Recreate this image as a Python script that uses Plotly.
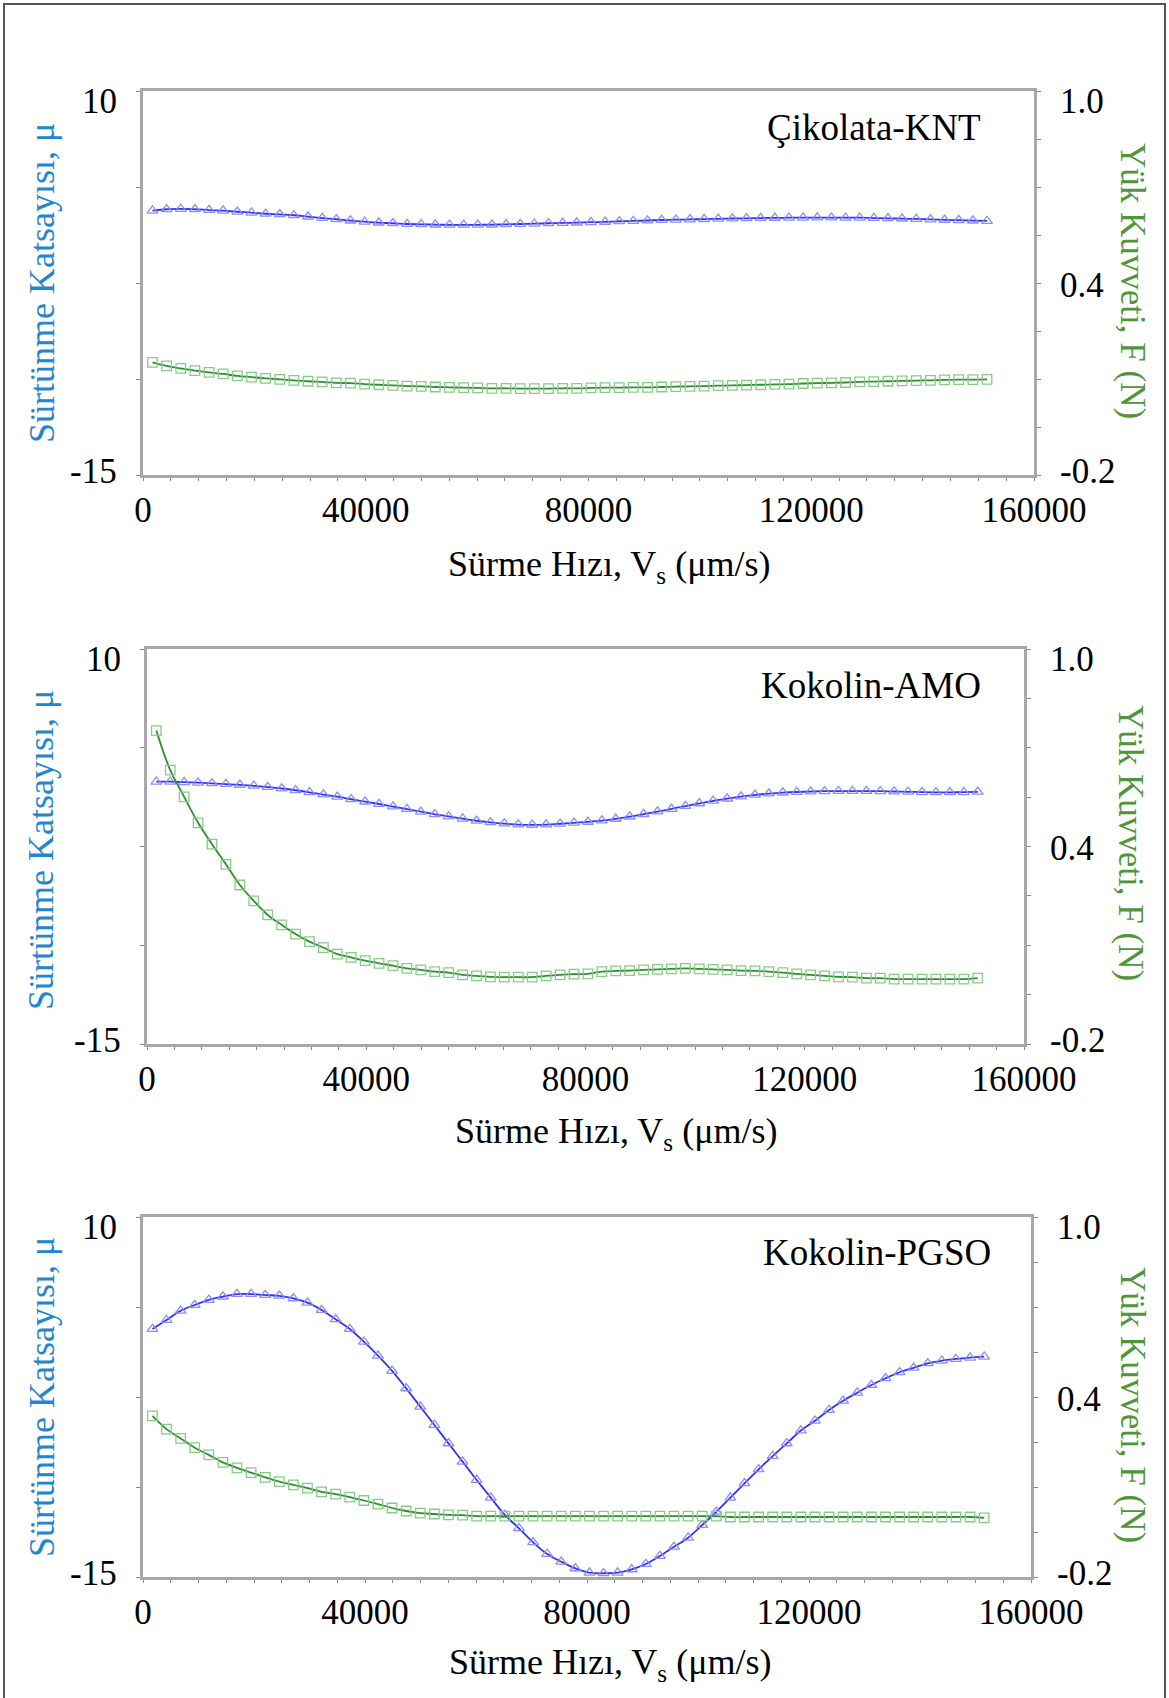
import plotly.graph_objects as go

W, H = 1169, 1698

# ---------------- data ----------------
speed = [1700, 4240, 6780, 9320, 11860, 14400, 16940, 19480, 22020, 24560,
         27100, 29640, 32180, 34720, 37260, 39800, 42340, 44880, 47420, 49960,
         52500, 55040, 57580, 60120, 62660, 65200, 67740, 70280, 72820, 75360,
         77900, 80440, 82980, 85520, 88060, 90600, 93140, 95680, 98220, 100760,
         103300, 105840, 108380, 110920, 113460, 116000, 118540, 121080, 123620, 126160,
         128700, 131240, 133780, 136320, 138860, 141400, 143940, 146480, 149020, 151560]

panel_names = ["Çikolata-KNT", "Kokolin-AMO", "Kokolin-PGSO"]

mu_knt = [2.21, 2.30, 2.32, 2.30, 2.25, 2.21, 2.14, 2.08, 2.01, 1.97,
          1.91, 1.82, 1.73, 1.65, 1.56, 1.49, 1.43, 1.39, 1.34, 1.32,
          1.30, 1.29, 1.29, 1.29, 1.30, 1.32, 1.34, 1.36, 1.39, 1.41,
          1.43, 1.46, 1.48, 1.52, 1.54, 1.57, 1.60, 1.62, 1.64, 1.66,
          1.68, 1.70, 1.71, 1.73, 1.74, 1.75, 1.75, 1.76, 1.76, 1.75,
          1.75, 1.73, 1.71, 1.69, 1.67, 1.64, 1.61, 1.59, 1.56, 1.54]
f_knt = [0.152, 0.141, 0.133, 0.126, 0.121, 0.116, 0.110, 0.106, 0.102, 0.099,
         0.096, 0.093, 0.091, 0.088, 0.087, 0.084, 0.082, 0.080, 0.078, 0.077,
         0.075, 0.074, 0.073, 0.072, 0.071, 0.071, 0.070, 0.070, 0.070, 0.071,
         0.071, 0.072, 0.073, 0.073, 0.074, 0.074, 0.075, 0.076, 0.077, 0.078,
         0.079, 0.080, 0.081, 0.082, 0.083, 0.084, 0.086, 0.087, 0.088, 0.089,
         0.091, 0.092, 0.093, 0.094, 0.095, 0.096, 0.097, 0.098, 0.098, 0.099]

mu_amo = [1.60, 1.60, 1.57, 1.54, 1.50, 1.45, 1.40, 1.34, 1.26, 1.17,
          1.06, 0.93, 0.79, 0.65, 0.49, 0.34, 0.19, 0.03, -0.13, -0.30,
          -0.46, -0.60, -0.74, -0.87, -0.97, -1.05, -1.11, -1.13, -1.11, -1.06,
          -1.00, -0.94, -0.86, -0.75, -0.61, -0.45, -0.29, -0.12, 0.06, 0.23,
          0.39, 0.53, 0.66, 0.77, 0.85, 0.91, 0.95, 0.98, 1.00, 1.01,
          1.01, 1.01, 1.00, 0.98, 0.96, 0.94, 0.93, 0.93, 0.94, 0.96]
f_amo = [0.752, 0.632, 0.551, 0.472, 0.407, 0.346, 0.283, 0.235, 0.192, 0.162,
         0.134, 0.111, 0.093, 0.073, 0.063, 0.053, 0.045, 0.038, 0.030, 0.025,
         0.020, 0.017, 0.010, 0.007, 0.004, 0.003, 0.003, 0.003, 0.007, 0.010,
         0.012, 0.013, 0.020, 0.022, 0.023, 0.025, 0.027, 0.028, 0.030, 0.028,
         0.027, 0.025, 0.023, 0.022, 0.020, 0.017, 0.013, 0.010, 0.007, 0.004,
         0.003, 0.000, 0.000, -0.003, -0.003, -0.003, -0.003, -0.003, -0.003, 0.000]

mu_pgso = [2.22, 2.85, 3.49, 3.89, 4.24, 4.47, 4.65, 4.65, 4.58, 4.53,
           4.35, 4.05, 3.54, 2.90, 2.22, 1.34, 0.37, -0.69, -1.90, -3.17,
           -4.44, -5.72, -6.99, -8.26, -9.49, -10.69, -11.62, -12.59, -13.40, -13.94,
           -14.40, -14.70, -14.74, -14.70, -14.47, -14.10, -13.54, -12.90, -12.27, -11.39,
           -10.47, -9.49, -8.49, -7.52, -6.60, -5.72, -4.83, -4.15, -3.40, -2.76,
           -2.20, -1.67, -1.20, -0.78, -0.47, -0.16, 0.02, 0.14, 0.23, 0.30]
f_pgso = [0.337, 0.293, 0.262, 0.231, 0.207, 0.182, 0.164, 0.148, 0.132, 0.118,
          0.107, 0.096, 0.084, 0.076, 0.066, 0.055, 0.043, 0.030, 0.020, 0.013,
          0.010, 0.007, 0.006, 0.003, 0.003, 0.003, 0.003, 0.003, 0.003, 0.003,
          0.003, 0.003, 0.003, 0.003, 0.003, 0.003, 0.003, 0.003, 0.003, 0.003,
          0.003, 0.000, 0.000, 0.000, 0.000, 0.000, 0.000, 0.000, 0.000, 0.000,
          0.000, 0.000, 0.000, 0.000, 0.000, 0.000, 0.000, 0.000, 0.000, -0.003]

mu_series = [mu_knt, mu_amo, mu_pgso]
f_series = [f_knt, f_amo, f_pgso]

x_tickvals = [0, 40000, 80000, 120000, 160000]
x_ticktext = ["0", "40000", "80000", "120000", "160000"]
x_minor_step = 5000
mu_tickvals = [-15, -8.75, -2.5, 3.75, 10]
mu_labelvals = [-15, 10]
mu_labeltext = ["-15", "10"]
f_tickvals = [-0.2, -0.05, 0.1, 0.25, 0.4, 0.55, 0.7, 0.85, 1.0]
f_labelvals = [-0.2, 0.4, 1.0]
f_labeltext = ["-0.2", "0.4", "1.0"]

x_title = "Sürme Hızı, V<sub>s</sub> (μm/s)"
mu_title = "Sürtünme Katsayısı, μ"
f_title = "Yük Kuvveti, F (N)"

# ---------------- layout geometry (pixels) ----------------
# (left, right, top, bottom) of each plot frame
frames = [(143, 1034, 91, 475), (147, 1024, 649, 1044), (143, 1031, 1217, 1577)]
left_title_pos = [(42, 283), (41, 850), (42, 1397)]
right_title_pos = [(1133, 281), (1131, 843), (1133, 1405)]
x_title_pos = [(609, 567), (616, 1133), (610, 1664)]
name_pos = [(983, 128), (983, 685), (993, 1252)]
LABEL_GAP = 24          # gap between y axis line and its tick labels
LABEL_SHIFT_BOTTOM = 4  # lowest y label sits slightly above its tick
LABEL_SHIFT_MID = -2
LABEL_SHIFT_TOP = -10   # highest y label sits below its tick

FONT = "Liberation Serif, Times New Roman, serif"
AXC = "#a8a8a8"
TICKC = "#888888"
BLUE_LINE = "#3434f0"
BLUE_MK = "#8c8cff"
GREEN_LINE = "#2f8f2f"
GREEN_MK = "#86cc86"
MU_COL = "#1f86cf"
F_COL = "#4f963a"
TICK_SIZE = 35
TITLE_SIZE = 36

def px(x):
    return x / W

def py(y):
    return 1 - y / H

def label_shift(j, n):
    if j == 0:
        return LABEL_SHIFT_BOTTOM
    if j == n - 1:
        return LABEL_SHIFT_TOP
    return LABEL_SHIFT_MID

fig = go.Figure()
layout = dict(
    width=W, height=H,
    margin=dict(l=0, r=0, t=0, b=0),
    paper_bgcolor="white", plot_bgcolor="white",
    showlegend=False,
    font=dict(family=FONT, size=TICK_SIZE, color="black"),
)
annotations = []

for k in range(3):
    l, r, t, b = frames[k]
    xa = "x" if k == 0 else f"x{k + 1}"
    ya_l = "y" if k == 0 else f"y{2 * k + 1}"
    ya_r = f"y{2 * k + 2}"
    xkey = "xaxis" if k == 0 else f"xaxis{k + 1}"
    ylkey = "yaxis" if k == 0 else f"yaxis{2 * k + 1}"
    yrkey = f"yaxis{2 * k + 2}"

    fig.add_trace(go.Scatter(
        x=speed, y=mu_series[k], xaxis=xa, yaxis=ya_l, mode="lines+markers",
        line=dict(color=BLUE_LINE, width=1.8, shape="spline"),
        marker=dict(symbol="triangle-up-open", size=9.5, color=BLUE_MK,
                    line=dict(color=BLUE_MK, width=1.3)),
        cliponaxis=False))
    fig.add_trace(go.Scatter(
        x=speed, y=f_series[k], xaxis=xa, yaxis=ya_r, mode="lines+markers",
        line=dict(color=GREEN_LINE, width=1.8, shape="spline"),
        marker=dict(symbol="square-open", size=9.5, color=GREEN_MK,
                    line=dict(color=GREEN_MK, width=1.3)),
        cliponaxis=False))

    layout[xkey] = dict(
        domain=[px(l), px(r)], anchor=ya_l, range=[0, 160000],
        tickmode="array", tickvals=x_tickvals, ticktext=x_ticktext,
        ticks="outside", ticklen=3, tickwidth=1.2, tickcolor=TICKC,
        minor=dict(tickmode="linear", tick0=0, dtick=x_minor_step,
                   ticks="outside", ticklen=3, tickwidth=1.2, tickcolor=TICKC,
                   showgrid=False),
        showline=True, linecolor=AXC, linewidth=2.5, mirror=True,
        showgrid=False, zeroline=False, automargin=False,
        tickfont=dict(family=FONT, size=TICK_SIZE, color="black"),
        ticklabelstandoff=-1,
    )
    layout[ylkey] = dict(
        domain=[py(b), py(t)], anchor=xa, range=[-15, 10],
        tickmode="array", tickvals=mu_tickvals, showticklabels=False,
        ticks="outside", ticklen=4, tickwidth=1.2, tickcolor=TICKC,
        showline=True, linecolor=AXC, linewidth=2.5,
        showgrid=False, zeroline=False, automargin=False,
    )
    layout[yrkey] = dict(
        domain=[py(b), py(t)], anchor=xa, overlaying=ya_l, side="right",
        range=[-0.2, 1.0],
        tickmode="array", tickvals=f_tickvals, showticklabels=False,
        ticks="outside", ticklen=4, tickwidth=1.2, tickcolor=TICKC,
        showline=True, linecolor=AXC, linewidth=2.5,
        showgrid=False, zeroline=False, automargin=False,
    )

    # y tick labels (placed at the axis values, nudged like the original)
    for j, (v, s) in enumerate(zip(mu_labelvals, mu_labeltext)):
        annotations.append(dict(
            text=s, x=px(l - LABEL_GAP), y=v, xref="paper", yref=ya_l,
            showarrow=False, xanchor="right", yanchor="middle",
            yshift=label_shift(j, len(mu_labelvals)),
            font=dict(family=FONT, size=TICK_SIZE, color="black")))
    for j, (v, s) in enumerate(zip(f_labelvals, f_labeltext)):
        annotations.append(dict(
            text=s, x=px(r + LABEL_GAP), y=v, xref="paper", yref=ya_r,
            showarrow=False, xanchor="left", yanchor="middle",
            yshift=label_shift(j, len(f_labelvals)),
            font=dict(family=FONT, size=TICK_SIZE, color="black")))

    annotations.append(dict(
        text=mu_title, x=px(left_title_pos[k][0]), y=py(left_title_pos[k][1]),
        xref="paper", yref="paper", showarrow=False, textangle=-90,
        xanchor="center", yanchor="middle",
        font=dict(family=FONT, size=TITLE_SIZE, color=MU_COL)))
    annotations.append(dict(
        text=f_title, x=px(right_title_pos[k][0]), y=py(right_title_pos[k][1]),
        xref="paper", yref="paper", showarrow=False, textangle=90,
        xanchor="center", yanchor="middle",
        font=dict(family=FONT, size=35, color=F_COL)))
    annotations.append(dict(
        text=x_title, x=px(x_title_pos[k][0]), y=py(x_title_pos[k][1]),
        xref="paper", yref="paper", showarrow=False,
        xanchor="center", yanchor="middle",
        font=dict(family=FONT, size=TITLE_SIZE, color="black")))
    annotations.append(dict(
        text=panel_names[k], x=px(name_pos[k][0]), y=py(name_pos[k][1]),
        xref="paper", yref="paper", showarrow=False,
        xanchor="right", yanchor="middle",
        font=dict(family=FONT, size=37, color="black")))

layout["annotations"] = annotations
layout["shapes"] = [dict(
    type="rect", xref="paper", yref="paper",
    x0=px(4), x1=px(1165), y0=py(1712), y1=py(4),
    line=dict(color="#555555", width=2), fillcolor="rgba(0,0,0,0)", layer="above")]

fig.update_layout(**layout)
fig.write_html("out.html")
